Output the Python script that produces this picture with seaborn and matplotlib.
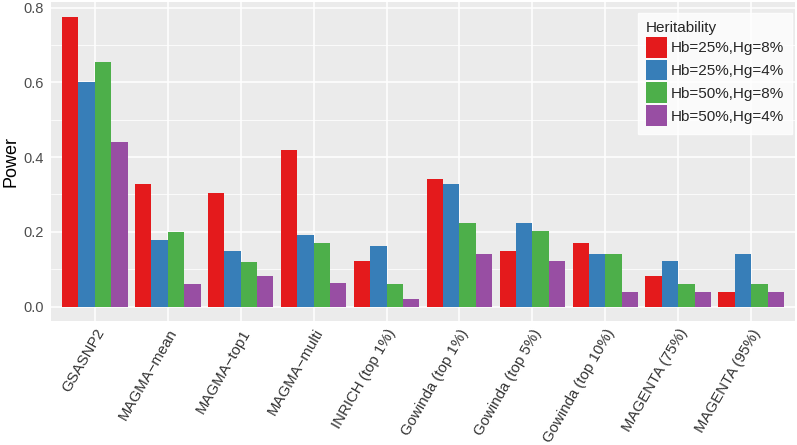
import numpy as np
import pandas as pd
import seaborn as sns
import matplotlib.pyplot as plt
from matplotlib.ticker import MultipleLocator

methods = ["GSASNP2", "MAGMA\u2212mean", "MAGMA\u2212top1", "MAGMA\u2212multi", "INRICH (top 1%)",
           "Gowinda (top 1%)", "Gowinda (top 5%)", "Gowinda (top 10%)", "MAGENTA (75%)", "MAGENTA (95%)"]
groups = ["Hb=25%,Hg=8%", "Hb=25%,Hg=4%", "Hb=50%,Hg=8%", "Hb=50%,Hg=4%"]
hb25_hg8 = [0.776, 0.327, 0.303, 0.418, 0.122, 0.340, 0.149, 0.169, 0.082, 0.040]
hb25_hg4 = [0.600, 0.179, 0.148, 0.191, 0.162, 0.327, 0.224, 0.141, 0.122, 0.141]
hb50_hg8 = [0.653, 0.199, 0.118, 0.169, 0.060, 0.224, 0.203, 0.141, 0.060, 0.060]
hb50_hg4 = [0.439, 0.059, 0.081, 0.063, 0.020, 0.141, 0.122, 0.040, 0.040, 0.040]
colors = ["#E41A1C", "#377EB8", "#4DAF4A", "#984EA3"]

series = [hb25_hg8, hb25_hg4, hb50_hg8, hb50_hg4]
rows = []
for g, vals in zip(groups, series):
    for m, v in zip(methods, vals):
        rows.append({"method": m, "power": v, "group": g})
df = pd.DataFrame(rows)

sns.set_theme(style="darkgrid")
plt.rcParams["font.family"] = ["Liberation Sans", "DejaVu Sans"]

fig = plt.figure(figsize=(7.97, 4.45), dpi=100)
ax = fig.add_axes([51/797, 1-321/445, (795-51)/797, (321-2)/445])
ax.set_facecolor("#EBEBEB")

sns.barplot(data=df, x="method", y="power", hue="group", hue_order=groups, order=methods,
            palette=colors, width=0.9, gap=0, saturation=1, errorbar=None, ax=ax,
            linewidth=0)

ymax = max(max(s) for s in series)
ax.set_ylim(-0.05*ymax, ymax*1.05)
ax.set_xlim(-0.6, len(methods)-0.4)
ax.yaxis.set_major_locator(MultipleLocator(0.2))
ax.yaxis.set_minor_locator(MultipleLocator(0.1))
ax.yaxis.set_major_formatter(plt.FuncFormatter(lambda v, p: f"{v:.1f}"))
ax.grid(which="major", color="white", linewidth=1.1)
ax.grid(which="minor", axis="y", color="white", linewidth=0.55)
ax.set_axisbelow(True)
for s in ax.spines.values():
    s.set_visible(False)

ax.tick_params(axis="both", which="major", length=3, width=0.8, color="#333333",
               labelcolor="#4D4D4D", pad=2)
ax.tick_params(axis="y", which="major", labelsize=10.5)
ax.tick_params(axis="x", which="major", labelsize=10.8, labelcolor="#333333", pad=1)
ax.tick_params(axis="y", which="minor", length=0)
plt.setp(ax.get_xticklabels(), rotation=60, ha="right", rotation_mode="anchor")

ax.set_xlabel("")
ax.set_ylabel("Power", fontsize=13, color="black", labelpad=3)

leg = ax.legend(title="Heritability", loc="upper right",
                bbox_to_anchor=(792/797, 1-13/445), bbox_transform=fig.transFigure,
                frameon=True, fontsize=11, title_fontsize=11, handlelength=1.37,
                handleheight=1.73, labelspacing=0.13, handletextpad=0.3, borderpad=0.5,
                borderaxespad=0)
leg.get_frame().set_facecolor("white")
leg.get_frame().set_edgecolor("white")
leg.get_frame().set_boxstyle("square", pad=0)
leg._legend_box.align = "left"

fig.savefig("out.png", dpi=100, facecolor="white")
